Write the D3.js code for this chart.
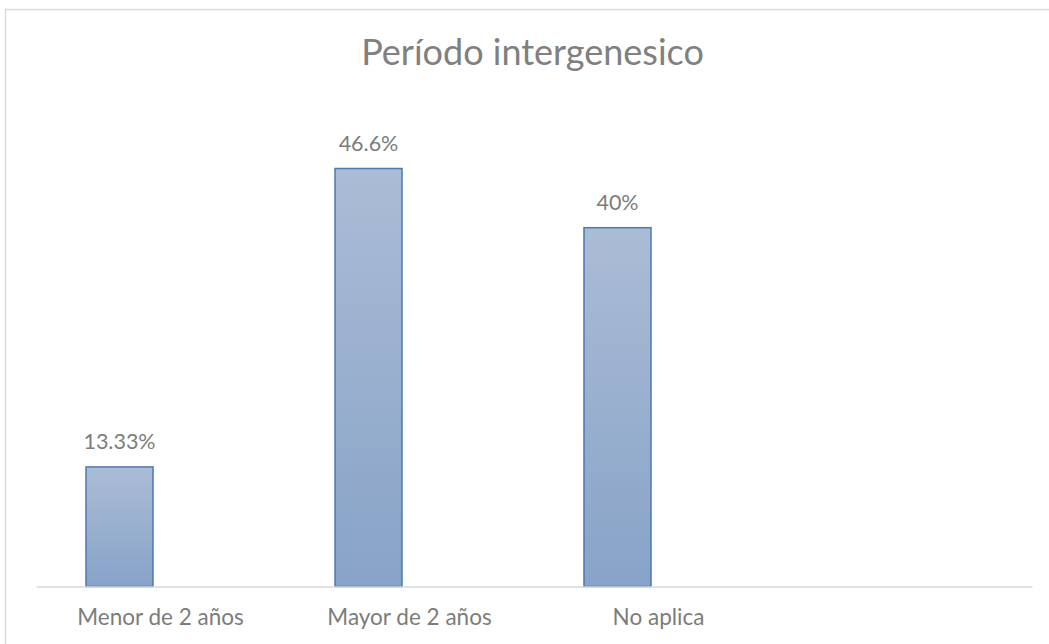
<!DOCTYPE html>
<html>
<head>
<meta charset="utf-8">
<script src="https://cdn.jsdelivr.net/npm/d3@7"></script>
<style>
  html, body { margin: 0; padding: 0; background: #fff; }
  svg { display: block; }
  text { font-family: Lato, "Open Sans", sans-serif; }
</style>
</head>
<body>
<svg id="chart" width="1049" height="644"></svg>
<script>
// Categories along the axis (the last slot is left empty)
const categories = ["Menor de 2 años", "Mayor de 2 años", "No aplica", ""];
// Percentage per category
const values = [13.33, 46.6, 40];
// Text shown above each bar
const valueLabels = ["13.33%", "46.6%", "40%"];
const titleText = "Período intergenesico";

const W = 1049, H = 644;
const plot = { left: 36, right: 1032, top: 138, bottom: 586.5 };

const svg = d3.select("#chart");

// Chart frame
svg.append("rect")
  .attr("x", 5.5).attr("y", 9.5)
  .attr("width", W + 10).attr("height", H + 10)
  .attr("fill", "#fff")
  .attr("stroke", "#d9d9d9").attr("stroke-width", 1.5);

// Bar gradient
const defs = svg.append("defs");
const grad = defs.append("linearGradient")
  .attr("id", "barFill").attr("x1", 0).attr("y1", 0).attr("x2", 0).attr("y2", 1);
grad.append("stop").attr("offset", "0%").attr("stop-color", "#abbcd5");
grad.append("stop").attr("offset", "100%").attr("stop-color", "#87a3c8");

const x = d3.scaleBand()
  .domain(categories)
  .range([plot.left, plot.right])
  .padding(0);

const y = d3.scaleLinear()
  .domain([0, 50])
  .range([plot.bottom, plot.top]);

const barWidth = 67;
const barShift = -41; // bar sits left of the slot centre
const barCenter = i => x(categories[i]) + x.bandwidth() / 2 + barShift;

// Title
svg.append("text")
  .attr("x", 532.5).attr("y", 65)
  .attr("text-anchor", "middle")
  .attr("font-size", 36)
  .attr("fill", "#808080")
  .text(titleText);

// Bars
svg.append("g").selectAll("rect")
  .data(values)
  .join("rect")
  .attr("x", (d, i) => barCenter(i) - barWidth / 2)
  .attr("y", d => y(d))
  .attr("width", barWidth)
  .attr("height", d => y(0) - y(d))
  .attr("fill", "url(#barFill)")
  .attr("stroke", "#4a7ab4")
  .attr("stroke-width", 1.5);

// Value labels
svg.append("g").selectAll("text")
  .data(values)
  .join("text")
  .attr("x", (d, i) => barCenter(i))
  .attr("y", d => y(d) - 17.5)
  .attr("text-anchor", "middle")
  .attr("font-size", 21.5)
  .attr("fill", "#7c7c7c")
  .text((d, i) => valueLabels[i]);

// Category axis
const axis = svg.append("g")
  .attr("transform", `translate(0,${plot.bottom})`)
  .call(d3.axisBottom(x).tickSize(0).tickPadding(0));
axis.select(".domain").attr("stroke", "#d9d9d9").attr("stroke-width", 1.5);
axis.selectAll(".tick text")
  .attr("dy", 0)
  .attr("y", 38.5)
  .attr("font-size", 22.5)
  .attr("font-family", "Lato, 'Open Sans', sans-serif")
  .attr("fill", "#7c7c7c");
</script>
</body>
</html>
